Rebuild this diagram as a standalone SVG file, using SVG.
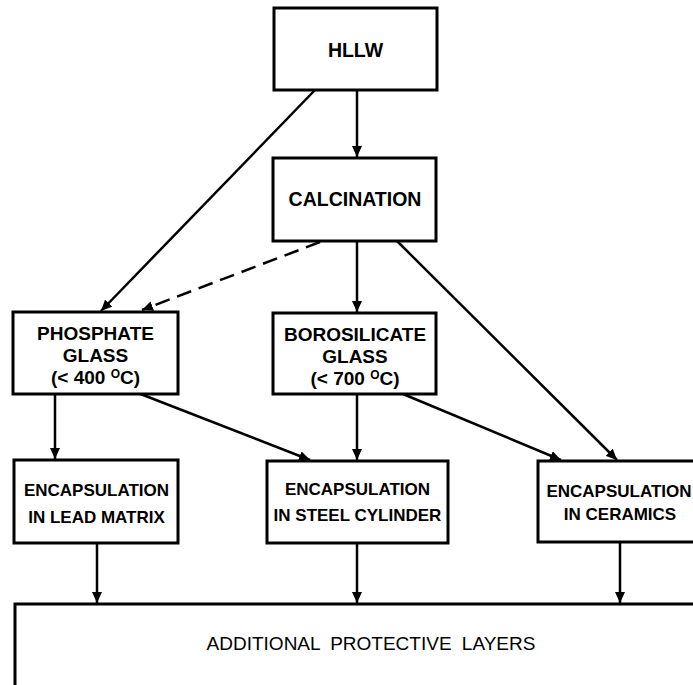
<svg xmlns="http://www.w3.org/2000/svg" width="693" height="685" viewBox="0 0 693 685">
  <style>
    .box { fill: #ffffff; stroke: #000000; stroke-width: 3; }
    .lbl { font-family: "Liberation Sans", Arial, sans-serif; font-weight: bold; fill: #000000; text-anchor: middle; }
    .big { font-size: 19.5px; }
    .mid { font-size: 19px; }
    .sm { font-size: 17px; }
    .sup { font-size: 12px; }
    .bot { font-family: "Liberation Sans", Arial, sans-serif; font-size: 19px; fill: #000000; text-anchor: middle; word-spacing: 5px; }
    .edge { fill: none; stroke: #000000; stroke-width: 2.5; marker-end: url(#arr); }
    .dash { stroke-dasharray: 15 8; }
  </style>
  <defs>
    <marker id="arr" markerUnits="userSpaceOnUse" markerWidth="12" markerHeight="10" refX="11" refY="5" orient="auto">
      <path d="M0,0 L11,5 L0,10 Z" fill="#000000"/>
    </marker>
  </defs>
  <rect width="693" height="685" fill="#ffffff"/>

  <g id="connectors">
    <line class="edge" x1="357" y1="90" x2="357" y2="157"/>
    <line class="edge" x1="315" y1="90" x2="101" y2="311"/>
    <line class="edge dash" x1="320" y1="242" x2="142" y2="310"/>
    <line class="edge" x1="357" y1="241" x2="357" y2="312"/>
    <line class="edge" x1="397" y1="241" x2="617" y2="460"/>
    <line class="edge" x1="55" y1="394" x2="55" y2="459"/>
    <line class="edge" x1="138" y1="393" x2="310" y2="460"/>
    <line class="edge" x1="357" y1="394" x2="357" y2="460"/>
    <line class="edge" x1="403" y1="394" x2="561" y2="460"/>
    <line class="edge" x1="97" y1="543" x2="97" y2="603"/>
    <line class="edge" x1="357" y1="543" x2="357" y2="603"/>
    <line class="edge" x1="620" y1="542" x2="620" y2="603"/>
  </g>

  <g id="hllw">
    <rect class="box" x="274" y="8" width="163" height="82"/>
    <text class="lbl big" x="355.5" y="57">HLLW</text>
  </g>

  <g id="calcination">
    <rect class="box" x="273" y="158" width="163" height="83"/>
    <text class="lbl big" x="355" y="206">CALCINATION</text>
  </g>

  <g id="phosphate">
    <rect class="box" x="13" y="312" width="165" height="82"/>
    <text class="lbl mid" x="95.5" y="340">PHOSPHATE</text>
    <text class="lbl mid" x="95.5" y="362">GLASS</text>
    <text class="lbl mid" x="95.5" y="384">(&lt; 400 <tspan class="sup" dy="-6">O</tspan><tspan dy="6">C)</tspan></text>
  </g>

  <g id="borosilicate">
    <rect class="box" x="273" y="313" width="163" height="81"/>
    <text class="lbl mid" x="355" y="341">BOROSILICATE</text>
    <text class="lbl mid" x="355" y="363">GLASS</text>
    <text class="lbl mid" x="355" y="385">(&lt; 700 <tspan class="sup" dy="-6">O</tspan><tspan dy="6">C)</tspan></text>
  </g>

  <g id="lead">
    <rect class="box" x="14" y="460" width="164" height="83"/>
    <text class="lbl sm" x="96.5" y="496">ENCAPSULATION</text>
    <text class="lbl sm" x="96.5" y="523">IN LEAD MATRIX</text>
  </g>

  <g id="steel">
    <rect class="box" x="267" y="461" width="181" height="82"/>
    <text class="lbl sm" x="357.5" y="495">ENCAPSULATION</text>
    <text class="lbl sm" x="357.5" y="521">IN STEEL CYLINDER</text>
  </g>

  <g id="ceramics">
    <rect class="box" x="538" y="461" width="170" height="81"/>
    <text class="lbl sm" x="619" y="497">ENCAPSULATION</text>
    <text class="lbl sm" x="620" y="520">IN CERAMICS</text>
  </g>

  <g id="protective">
    <rect class="box" x="15" y="604" width="700" height="100"/>
    <text class="bot" x="371" y="650">ADDITIONAL PROTECTIVE LAYERS</text>
  </g>
</svg>
